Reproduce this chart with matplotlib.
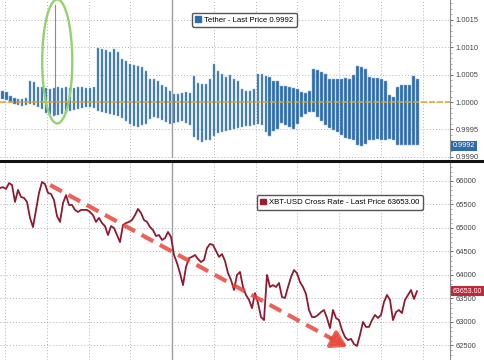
import numpy as np
import matplotlib
matplotlib.use("Agg")
import matplotlib.pyplot as plt
from matplotlib.patches import Patch, Ellipse
from matplotlib.lines import Line2D
from matplotlib.ticker import AutoMinorLocator, FixedLocator

plt.rcParams['font.family'] = ['Liberation Sans', 'DejaVu Sans']

# Tether high/low bars (time in grid units)
tether_hi = [1.00020, 1.00018, 1.00011, 1.00007, 1.00005, 1.00005, 1.00007, 1.00038, 1.00036, 1.00027,
             1.00027, 1.00025, 1.00023, 1.00025, 1.00027, 1.00025, 1.00027, 1.00025, 1.00025, 1.00027,
             1.00027, 1.00025, 1.00025, 1.00027, 1.00099, 1.00096, 1.00094, 1.00092, 1.00096, 1.00092,
             1.00078, 1.00074, 1.00069, 1.00067, 1.00065, 1.00063, 1.00056, 1.00042, 1.00042, 1.00038,
             1.00031, 1.00027, 1.00020, 1.00014, 1.00014, 1.00016, 1.00018, 1.00016, 1.00047, 1.00034,
             1.00032, 1.00032, 1.00042, 1.00070, 1.00056, 1.00051, 1.00045, 1.00049, 1.00042, 1.00038,
             1.00023, 1.00020, 1.00020, 1.00023, 1.00051, 1.00051, 1.00047, 1.00045, 1.00038, 1.00038,
             1.00029, 1.00029, 1.00027, 1.00025, 1.00023, 1.00018, 1.00016, 1.00020, 1.00060, 1.00058,
             1.00054, 1.00052, 1.00042, 1.00042, 1.00042, 1.00042, 1.00043, 1.00042, 1.00049, 1.00065,
             1.00063, 1.00060, 1.00045, 1.00043, 1.00043, 1.00042, 1.00038, 1.00013, 1.00009, 1.00027,
             1.00031, 1.00031, 1.00031, 1.00047, 1.00042]
tether_lo = [1.00005, 1.00004, 1.00000, 0.99996, 0.99995, 0.99993, 0.99995, 0.99996, 0.99995, 0.99991,
             0.99987, 0.99980, 0.99977, 0.99975, 0.99977, 0.99978, 0.99980, 0.99984, 0.99986, 0.99987,
             0.99989, 0.99991, 0.99991, 0.99989, 0.99984, 0.99982, 0.99980, 0.99978, 0.99977, 0.99975,
             0.99971, 0.99966, 0.99960, 0.99957, 0.99955, 0.99958, 0.99960, 0.99969, 0.99973, 0.99971,
             0.99968, 0.99964, 0.99960, 0.99962, 0.99964, 0.99966, 0.99962, 0.99958, 0.99937, 0.99930,
             0.99928, 0.99930, 0.99931, 0.99939, 0.99944, 0.99946, 0.99948, 0.99949, 0.99951, 0.99953,
             0.99955, 0.99957, 0.99957, 0.99958, 0.99960, 0.99958, 0.99946, 0.99939, 0.99948, 0.99951,
             0.99962, 0.99958, 0.99955, 0.99951, 0.99960, 0.99973, 0.99978, 0.99982, 0.99982, 0.99973,
             0.99966, 0.99958, 0.99953, 0.99949, 0.99946, 0.99940, 0.99935, 0.99933, 0.99930, 0.99922,
             0.99919, 0.99924, 0.99930, 0.99931, 0.99933, 0.99931, 0.99930, 0.99933, 0.99931, 0.99922,
             0.99921, 0.99921, 0.99922, 0.99921, 0.99921]
tether_t = np.linspace(-0.07, 9.88, len(tether_hi))
tether_last = 0.9992
spike_t, spike_hi, spike_lo = 1.2, 1.00177, 0.99978

# XBT-USD line
xbt = [65850, 65870, 65830, 65955, 65915, 65555, 65810, 65660, 65640, 65555,
       65215, 65020, 65385, 65745, 65980, 65935, 65745, 65725, 65595, 65255,
       65130, 65530, 65700, 65490, 65490, 65385, 65340, 65385, 65385, 65385,
       65340, 65275, 65130, 65215, 65105, 65040, 64850, 65040, 65000, 64850,
       64700, 65065, 65105, 65130, 65170, 65275, 65405, 65320, 65170, 65130,
       65020, 64955, 64830, 64850, 64745, 64785, 64915, 64810, 64425, 64255,
       64040, 63785, 64170, 64360, 64385, 64425, 64340, 64275, 64320, 64575,
       64660, 64640, 64510, 64385, 64445, 64300, 64040, 63895, 63680, 64000,
       64065, 63745, 63575, 63470, 63295, 63615, 63405, 63105, 63040, 64000,
       63745, 63785, 63745, 63830, 63530, 63510, 63745, 63955, 64105, 64040,
       63850, 63745, 63595, 63255, 63105, 63105, 63150, 63210, 63255, 63085,
       62870, 63255, 63085, 63040, 62830, 62680, 62615, 62640, 62530, 62490,
       62725, 63000, 62895, 62895, 63040, 63150, 63085, 63150, 63425, 63575,
       63470, 63040, 63210, 63255, 63190, 63470, 63575, 63680, 63490, 63653]
xbt_t = np.linspace(-0.12, 9.86, len(xbt))
xbt_last = 63653.00

# trend arrow (start, end of dashes, tip) in time/price
arrow_t = [1.08, 7.85, 8.25]
arrow_v = [65915, 62630, 62446]

top_ticks = [0.9990, 0.9995, 1.0000, 1.0005, 1.0010, 1.0015]
bot_ticks = [62500, 63000, 63500, 64000, 64500, 65000, 65500, 66000]

fig = plt.figure(figsize=(4.85, 3.6), dpi=100)
ax1 = fig.add_axes([0, 1 - 158 / 360, 450 / 485, 158 / 360])
ax2 = fig.add_axes([0, 0, 450 / 485, 197 / 360])

for ax in (ax1, ax2):
    ax.set_xlim(-0.12, 10.65)
    ax.xaxis.set_major_locator(FixedLocator(range(0, 11)))
    ax.tick_params(axis='x', length=0, labelbottom=False)
    ax.yaxis.tick_right()
    ax.tick_params(axis='y', which='major', direction='out', length=2.5, width=0.6,
                   pad=1.5, labelsize=5.4, colors='#555555', labelcolor='#444444')
    ax.tick_params(axis='y', which='minor', direction='out', length=1.3, width=0.5, colors='#888888')
    ax.grid(True, which='major', ls=(0, (1, 2.2)), color='#b0b0b0', lw=0.7)
    ax.axvline(4, color='#a0a0a0', lw=1.0)
    for s in ('left', 'top', 'bottom'):
        ax.spines[s].set_visible(False)
    ax.spines['right'].set_color('#8c8c8c')
    ax.spines['right'].set_linewidth(0.8)
    ax.set_axisbelow(True)

# top panel
ax1.set_ylim(0.99898, 1.00186)
ax1.set_yticks(top_ticks)
ax1.set_yticklabels([f"{v:.4f}" for v in top_ticks])
ax1.yaxis.set_minor_locator(AutoMinorLocator(5))
ax1.bar(tether_t, np.array(tether_hi) - np.array(tether_lo), bottom=tether_lo,
        width=0.068, color='#2f6cab', edgecolor='#8fb6dc', linewidth=0.35)
ax1.plot([spike_t, spike_t], [spike_lo, spike_hi], color='#8a8a8a', lw=0.8)
ax1.axhline(1.0, color='#e3a61c', lw=1.1, ls=(0, (4, 1.2)), clip_on=False)
ax1.add_patch(Ellipse((1.25, 1.00074), 0.72, 0.00226, fill=False,
                      edgecolor='#93d36e', lw=1.7))
ax1.legend(handles=[Patch(facecolor='#2f6cab', edgecolor='#2f6cab')],
           labels=['Tether - Last Price 0.9992'], loc='upper left',
           bbox_to_anchor=(0.418, 0.945), fontsize=5.6, handlelength=0.7,
           handleheight=0.7, handletextpad=0.4, borderpad=0.45, fancybox=True,
           framealpha=1, edgecolor='#555555')
ax1.annotate(f"{tether_last:.4f}", xy=(1.0, tether_last), xycoords=('axes fraction', 'data'),
             xytext=(2, 0), textcoords='offset points', va='center', ha='left',
             fontsize=5.2, color='white', annotation_clip=False,
             bbox=dict(boxstyle='square,pad=0.2', fc='#2f6cab', ec='none'))

# bottom panel
ax2.set_ylim(62191, 66383)
ax2.set_yticks(bot_ticks)
ax2.set_yticklabels([str(v) for v in bot_ticks])
ax2.yaxis.set_minor_locator(AutoMinorLocator(5))
ax2.plot(xbt_t, xbt, color='#8e1b30', lw=1.3)
ax2.plot(arrow_t[:2], arrow_v[:2], color='#e8473c', alpha=0.85, lw=3,
         ls=(0, (3.2, 1.8)), solid_capstyle='butt')
ax2.annotate('', xy=(arrow_t[2], arrow_v[2]), xytext=(arrow_t[1] - 0.1, arrow_v[1] + 45),
             arrowprops=dict(arrowstyle='-|>,head_length=0.9,head_width=0.55',
                             color='#e8473c', alpha=0.85, lw=3))
ax2.legend(handles=[Patch(facecolor='#a01c2c', edgecolor='#a01c2c')],
           labels=['XBT-USD Cross Rate - Last Price 63653.00'], loc='upper left',
           bbox_to_anchor=(0.562, 0.855), fontsize=5.6, handlelength=0.7,
           handleheight=0.7, handletextpad=0.4, borderpad=0.45, fancybox=True,
           framealpha=1, edgecolor='#555555')
ax2.annotate(f"{xbt_last:.2f}", xy=(1.0, xbt_last), xycoords=('axes fraction', 'data'),
             xytext=(2, 0), textcoords='offset points', va='center', ha='left',
             fontsize=5.0, color='white', annotation_clip=False,
             bbox=dict(boxstyle='square,pad=0.2', fc='#c0283a', ec='none'))

fig.add_artist(Line2D([0, 1], [1 - 161 / 360] * 2, color='#111111', lw=2.2))

fig.savefig("out.png", dpi=100)
